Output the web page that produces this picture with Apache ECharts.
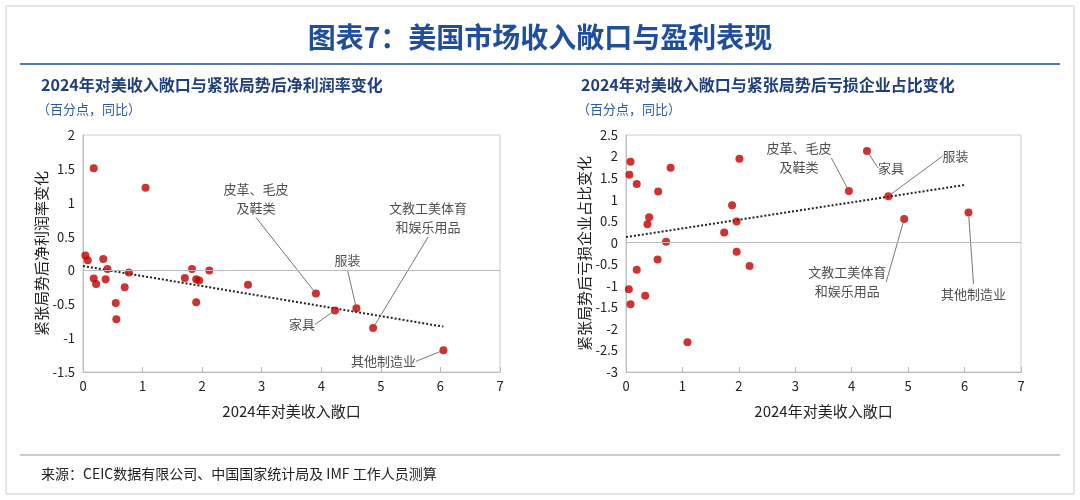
<!DOCTYPE html>
<html>
<head>
<meta charset="UTF-8">
<title>图表7</title>
<script src="https://cdn.jsdelivr.net/npm/echarts@6/dist/echarts.min.js"></script>
</head>
<body style="margin:0;background:#fff">
<div id="main" style="width:1080px;height:500px;"></div>
<script>
// 左图：收入敞口 vs 净利润率变化
var leftX = [0.04,0.08,0.18,0.18,0.22,0.34,0.38,0.41,0.55,0.56,0.70,0.77,1.05,1.71,1.83,1.90,1.95,1.90,2.12,2.77,3.91,4.23,4.59,4.87,6.05];
var leftY = [0.22,0.15,1.51,-0.12,-0.20,0.17,-0.13,0.02,-0.48,-0.72,-0.25,-0.03,1.22,-0.11,0.02,-0.13,-0.15,-0.47,0.00,-0.21,-0.34,-0.59,-0.56,-0.85,-1.18];
var leftTrend = [[0, 0.065], [6.05, -0.83]];
// 右图：收入敞口 vs 亏损企业占比变化
var rightX = [0.06,0.08,0.19,0.57,0.79,0.41,0.38,0.71,0.56,0.19,0.05,0.08,0.34,1.09,1.74,1.88,1.96,2.01,1.96,2.19,3.95,4.27,4.65,4.93,6.07];
var rightY = [1.58,1.88,1.36,1.19,1.74,0.59,0.43,0.02,-0.39,-0.63,-1.08,-1.43,-1.23,-2.31,0.24,0.87,0.49,1.95,-0.21,-0.54,1.20,2.13,1.08,0.55,0.70];
var rightTrend = [[0, 0.13], [6.0, 1.34]];
// 标注（最后五个点）
var tagNames = ['皮革、毛皮\n及鞋类', '家具', '服装', '文教工美体育\n和娱乐用品', '其他制造业'];
var leftOffsets = [[-60,-95],[-33,14],[-9,-48],[55,-110],[-60,11]];
var rightOffsets = [[-50,-33],[24,17],[67,-40],[-57,63],[5,81]];

function buildData(xs, ys) {
  var n = xs.length, first = n - tagNames.length;
  return xs.map(function (x, i) {
    var item = { value: [x, ys[i]] };
    if (i >= first) {
      item.label = { show: true, formatter: tagNames[i - first], position: 'inside' };
    }
    return item;
  });
}

var txt = '#222';
function xAxis(idx) {
  return {
    gridIndex: idx, type: 'value', min: 0, max: 7, interval: 1,
    name: '2024年对美收入敞口', nameLocation: 'middle', nameGap: 32,
    nameTextStyle: { fontSize: 15, color: txt, letterSpacing: 1 },
    axisLine: { onZero: false, lineStyle: { color: '#bbb' } },
    axisTick: { show: true, inside: true, lineStyle: { color: '#bbb' } },
    axisLabel: { color: txt, fontSize: 13 },
    splitLine: { show: false }
  };
}
function yAxis(idx, min, max, name) {
  return {
    gridIndex: idx, type: 'value', min: min, max: max, interval: 0.5,
    name: name, nameLocation: 'middle', nameGap: 30,
    nameTextStyle: { fontSize: 15, color: txt },
    axisLine: { show: true, lineStyle: { color: '#bbb' } },
    axisTick: { show: false },
    axisLabel: { color: txt, fontSize: 13 },
    splitLine: { show: false }
  };
}
function scatter(idx, data, offs) {
  var first = data.length - tagNames.length;
  return {
    type: 'scatter', xAxisIndex: idx, yAxisIndex: idx, data: data,
    symbolSize: 8, itemStyle: { color: '#c00000' },
    label: { color: '#222', fontSize: 13, lineHeight: 19 },
    labelLine: { show: true, lineStyle: { color: '#777', width: 1 } },
    labelLayout: function (p) {
      var k = p.dataIndex - first;
      if (k < 0) return {};
      return { dx: offs[k][0], dy: offs[k][1] };
    },
    markLine: { silent: true, symbol: 'none', label: { show: false },
      lineStyle: { color: '#bbb', type: 'solid', width: 1 }, data: [{ yAxis: 0 }] }
  };
}
function trend(idx, pts) {
  return { type: 'line', xAxisIndex: idx, yAxisIndex: idx, data: pts, symbol: 'none',
    lineStyle: { color: '#222', type: 'dotted', width: 2 }, z: 1 };
}

var myChart = echarts.init(document.getElementById('main'));
myChart.setOption({
  textStyle: { fontFamily: 'Noto Sans CJK SC' },
  title: [
    { text: '图表7：美国市场收入敞口与盈利表现', left: 'center', top: 18,
      textStyle: { fontSize: 28, fontWeight: 'bold', color: '#1f4e9a' } },
    { text: '2024年对美收入敞口与紧张局势后净利润率变化', left: 36, top: 72,
      textStyle: { fontSize: 16, fontWeight: 'bold', color: '#1f3f7a' } },
    { text: '（百分点，同比）', left: 32, top: 98, textStyle: { fontSize: 13, fontWeight: 'normal', color: '#2c5aa0' } },
    { text: '2024年对美收入敞口与紧张局势后亏损企业占比变化', left: 576, top: 72,
      textStyle: { fontSize: 16, fontWeight: 'bold', color: '#1f3f7a' } },
    { text: '（百分点，同比）', left: 572, top: 98, textStyle: { fontSize: 13, fontWeight: 'normal', color: '#2c5aa0' } },
    { text: '来源：CEIC数据有限公司、中国国家统计局及 IMF 工作人员测算', left: 36, top: 462,
      textStyle: { fontSize: 14, fontWeight: 'normal', color: '#222' } }
  ],
  graphic: [
    { type: 'rect', shape: { x: 6, y: 6, width: 1068, height: 488 }, style: { fill: 'none', stroke: '#ccc' } },
    { type: 'line', shape: { x1: 20, y1: 64, x2: 1060, y2: 64 }, style: { stroke: '#1f4e9a', lineWidth: 1.5 } },
    { type: 'line', shape: { x1: 20, y1: 455, x2: 1060, y2: 455 }, style: { stroke: '#999', lineWidth: 1 } }
  ],
  grid: [
    { left: 83, right: 580, top: 135, bottom: 128, show: true, borderColor: '#ccc' },
    { left: 626, right: 59, top: 135, bottom: 128, show: true, borderColor: '#ccc' }
  ],
  xAxis: [xAxis(0), xAxis(1)],
  yAxis: [yAxis(0, -1.5, 2, '紧张局势后净利润率变化'), yAxis(1, -3, 2.5, '紧张局势后亏损企业占比变化')],
  series: [
    trend(0, leftTrend), scatter(0, buildData(leftX, leftY), leftOffsets),
    trend(1, rightTrend), scatter(1, buildData(rightX, rightY), rightOffsets)
  ]
});
</script>
</body>
</html>
